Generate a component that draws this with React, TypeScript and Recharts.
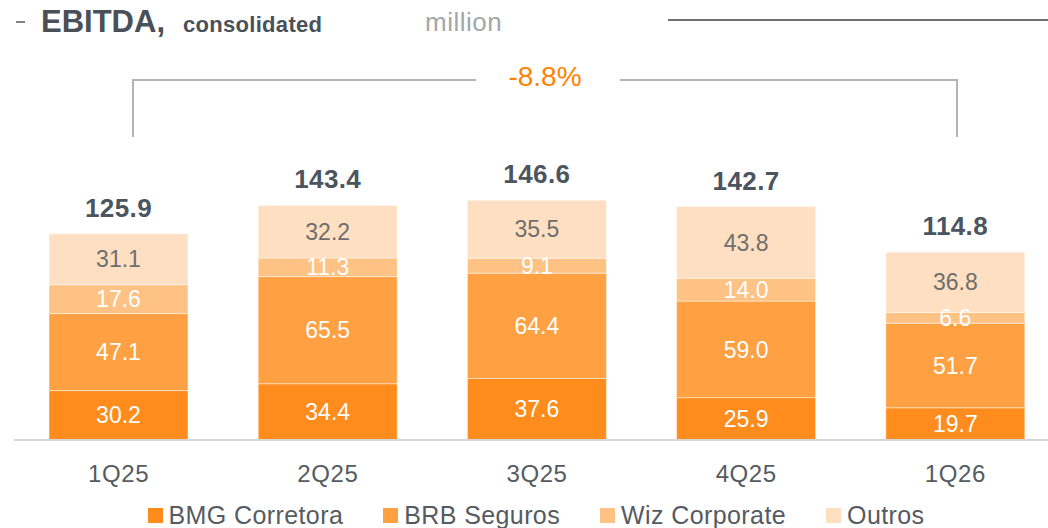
import { BarChart, Bar, XAxis, YAxis, LabelList } from 'recharts'

const quarters = ['1Q25', '2Q25', '3Q25', '4Q25', '1Q26']
const bmgCorretora = [30.2, 34.4, 37.6, 25.9, 19.7]
const brbSeguros = [47.1, 65.5, 64.4, 59.0, 51.7]
const wizCorporate = [17.6, 11.3, 9.1, 14.0, 6.6]
const outros = [31.1, 32.2, 35.5, 43.8, 36.8]
const totals = [125.9, 143.4, 146.6, 142.7, 114.8]
const growthLabel = '-8.8%'

const SERIES = [
  { key: 'bmg', label: 'BMG Corretora', color: '#FF8C1C', text: '#ffffff' },
  { key: 'brb', label: 'BRB Seguros', color: '#FFA143', text: '#ffffff' },
  { key: 'wiz', label: 'Wiz Corporate', color: '#FFC285', text: '#ffffff' },
  { key: 'outros', label: 'Outros', color: '#FFDFC1', text: '#6e6e6e' },
] as const

const data = quarters.map((q, i) => ({
  quarter: q,
  bmg: bmgCorretora[i],
  brb: brbSeguros[i],
  wiz: wizCorporate[i],
  outros: outros[i],
  total: totals[i],
}))

const FONT = '"Liberation Sans", Arial, sans-serif'
const fmt = (v: unknown) => Number(v).toFixed(1)

export default function App() {
  return (
    <div
      style={{
        position: 'absolute',
        left: 0,
        top: 0,
        width: 1048,
        height: 528,
        overflow: 'hidden',
        background: '#fff',
        fontFamily: FONT,
      }}
    >
      <div style={{ position: 'absolute', left: 0, top: 0 }}>
        <BarChart
          width={1062}
          height={528}
          data={data}
          margin={{ top: 40, right: 2, bottom: 0, left: 14 }}
        >
          <XAxis
            dataKey="quarter"
            height={88}
            axisLine={{ stroke: '#d6d6d6', strokeWidth: 2 }}
            tickLine={false}
            tickSize={0}
            tickMargin={25}
            tick={{ fill: '#555b60', fontSize: 24, fontFamily: FONT, letterSpacing: 0.6 }}
          />
          <YAxis hide domain={[0, 244.5]} />
          {SERIES.map(s => (
            <Bar
              key={s.key}
              dataKey={s.key}
              stackId="a"
              fill={s.color}
              barSize={139}
              stroke="rgba(255,255,255,0.45)"
              strokeWidth={1}
              isAnimationActive={false}
            >
              <LabelList
                dataKey={s.key}
                position="center"
                formatter={fmt}
                fill={s.text}
                style={{ fontSize: 23, fontFamily: FONT }}
              />
              {s.key === 'outros' && (
                <LabelList
                  dataKey="total"
                  position="top"
                  offset={17}
                  formatter={fmt}
                  fill="#4b5560"
                  style={{ fontSize: 26, fontWeight: 700, fontFamily: FONT, letterSpacing: 0.4 }}
                />
              )}
            </Bar>
          ))}
        </BarChart>
      </div>

      <svg
        width={1048}
        height={528}
        style={{ position: 'absolute', left: 0, top: 0, pointerEvents: 'none' }}
      >
        <line x1={16} y1={22} x2={25} y2={22} stroke="#555a60" strokeWidth={1.5} />
        <text x={41} y={32} fontSize={31} fontWeight={700} fill="#4a5058" fontFamily={FONT}>
          EBITDA,
        </text>
        <text x={183} y={32} fontSize={22} fontWeight={700} fill="#4a5058" fontFamily={FONT} letterSpacing={0.3}>
          consolidated
        </text>
        <text x={425} y={31} fontSize={26} fill="#a3a6a9" fontFamily={FONT} letterSpacing={0.5}>
          million
        </text>
        <line x1={668} y1={20} x2={1048} y2={20} stroke="#6b7178" strokeWidth={2} />

        <path d="M133,137 V80 H476 M620,80 H957 V137" fill="none" stroke="#b3b3b3" strokeWidth={2} />
        <text x={545} y={86} fontSize={28} fill="#FF8200" textAnchor="middle" fontFamily={FONT}>
          {growthLabel}
        </text>
      </svg>

      <div
        style={{
          position: 'absolute',
          left: 0,
          width: 1072,
          top: 502,
          display: 'flex',
          justifyContent: 'center',
          gap: 40,
          fontSize: 25,
          letterSpacing: 0.4,
          color: '#555b60',
          lineHeight: '26px',
        }}
      >
        {SERIES.map(s => (
          <div key={s.key} style={{ display: 'flex', alignItems: 'center', gap: 6 }}>
            <span style={{ width: 15, height: 15, background: s.color, display: 'inline-block' }} />
            <span>{s.label}</span>
          </div>
        ))}
      </div>
    </div>
  )
}
